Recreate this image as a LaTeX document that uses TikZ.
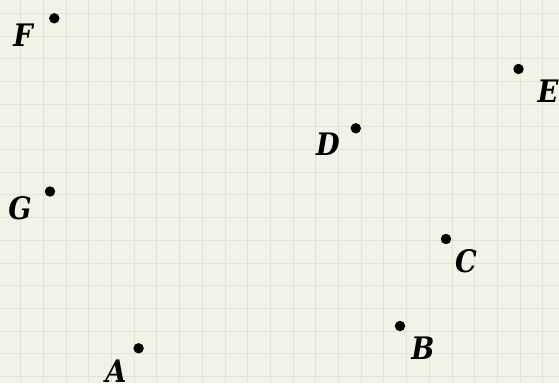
\documentclass[tikz,border=0pt]{standalone}
\usepackage{fontspec}
\setmainfont[FakeStretch=0.88]{DejaVu Serif}
\definecolor{paper}{RGB}{242,242,230}
\definecolor{gridc}{RGB}{226,226,212}
\tikzset{
  gridline/.style={draw=gridc, line width=1pt},
  pt/.style={circle, fill=black, inner sep=0pt, minimum size=10.4pt},
  lbl/.style={inner sep=0pt, font=\fontsize{31}{31}\selectfont\bfseries\itshape}
}
\begin{document}
\begin{tikzpicture}[x=1pt,y=-1pt]
\fill[paper] (0,0) rectangle (559,383);
\useasboundingbox (0,0) rectangle (559,383);
\begin{scope}
\clip (0,0) rectangle (559,383);
\foreach \i in {0,...,24} \draw[gridline] ({20.7+22.7*\i},0) -- ++(0,383);
\foreach \j in {0,...,16} \draw[gridline] (0,{13.3+22.7*\j}) -- ++(559,0);
\end{scope}
\node[pt] (F) at (54.3,18.3) {};
\node[pt] (E) at (518.5,69) {};
\node[pt] (D) at (355.8,128.3) {};
\node[pt] (G) at (50,191.5) {};
\node[pt] (C) at (446,239) {};
\node[pt] (B) at (400,326) {};
\node[pt] (A) at (138.6,348.3) {};
\node[lbl] (lF) at (23,35) {F};
\node[lbl] (lE) at (548,91) {E};
\node[lbl] (lD) at (328,144) {D};
\node[lbl] (lG) at (20,208) {G};
\node[lbl] (lC) at (466,261) {C};
\node[lbl] (lB) at (423,348) {B};
\node[lbl] (lA) at (116,371) {A};
\end{tikzpicture}
\end{document}
